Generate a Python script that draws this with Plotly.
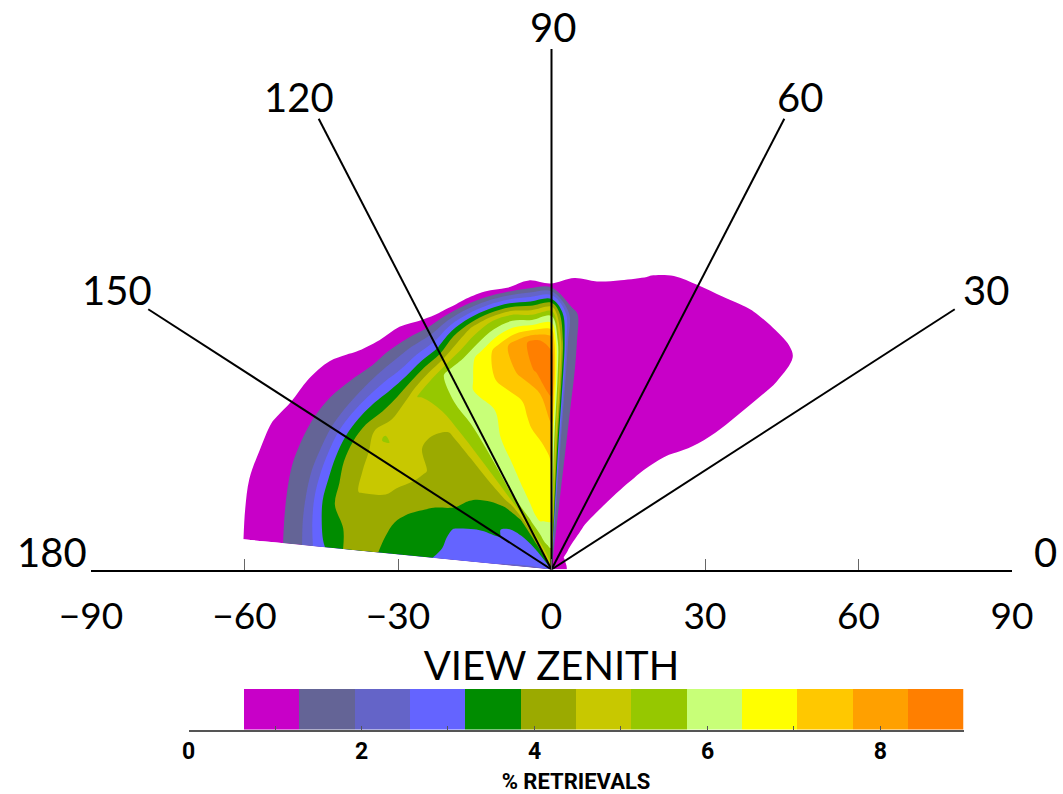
import numpy as np
import plotly.graph_objects as go

# ---------------- data ----------------
zenith = [0, 5, 10, 15, 20, 25, 30, 35, 40, 45, 50, 55, 60, 65]
azimuth = [0, 5, 10, 15, 20, 25, 30, 35, 40, 45, 50, 55, 60, 65, 70, 75, 80, 85,
           90, 95, 100, 105, 110, 115, 120, 125, 130, 135, 140, 145, 150, 155, 160, 165, 170, 175]

# % retrievals, one row per relative azimuth, one column per view zenith
pct_az000 = [1.3, 0.2, 0, 0, 0, 0, 0, 0, 0, 0, 0, 0, 0, 0]
pct_az005 = [1.3, 0.2, 0, 0, 0, 0, 0, 0, 0, 0, 0, 0, 0, 0]
pct_az010 = [1.3, 0.2, 0, 0, 0, 0, 0, 0, 0, 0, 0, 0, 0, 0]
pct_az015 = [1.3, 0.2, 0, 0, 0, 0, 0, 0, 0, 0, 0, 0, 0, 0]
pct_az020 = [1.3, 0.2, 0, 0, 0, 0, 0, 0, 0, 0, 0, 0, 0, 0]
pct_az025 = [1.3, 0.2, 0, 0, 0, 0, 0, 0, 0, 0, 0, 0, 0, 0]
pct_az030 = [1.3, 0.2, 0, 0, 0, 0, 0.05, 0.1, 0.15, 0.2, 0.2, 0.2, 0.15, 0]
pct_az035 = [1.3, 0.25, 0.1, 0.1, 0.1, 0.15, 0.25, 0.4, 0.5, 0.5, 0.5, 0.5, 0.45, 0]
pct_az040 = [1.2, 0.3, 0.2, 0.25, 0.3, 0.4, 0.55, 0.8, 0.9, 0.95, 0.95, 0.9, 0.75, 0]
pct_az045 = [1.2, 0.55, 0.45, 0.5, 0.6, 0.7, 0.85, 0.95, 1.0, 1.0, 1.0, 0.95, 0.7, 0]
pct_az050 = [1.2, 0.75, 0.62, 0.75, 0.85, 0.9, 0.95, 1.0, 1.0, 1.0, 1.0, 0.95, 0.62, 0]
pct_az055 = [1.2, 0.9, 0.9, 0.95, 1.0, 1.0, 1.0, 1.0, 1.0, 1.0, 0.95, 0.9, 0.5, 0]
pct_az060 = [1.2, 1.0, 1.0, 1.0, 1.0, 1.0, 1.0, 1.0, 1.0, 1.0, 0.95, 0.9, 0.35, 0]
pct_az065 = [1.2, 1.0, 1.0, 1.0, 1.0, 1.0, 1.0, 1.0, 1.0, 1.0, 0.95, 0.85, 0.2, 0]
pct_az070 = [1.2, 1.0, 1.0, 1.0, 1.0, 1.0, 1.0, 1.0, 1.0, 1.0, 0.95, 0.6, 0, 0]
pct_az075 = [1.2, 1.0, 1.0, 1.0, 1.0, 1.0, 1.0, 1.0, 1.0, 1.0, 0.9, 0.35, 0, 0]
pct_az080 = [1.2, 1.05, 1.05, 1.05, 1.05, 1.05, 1.05, 1.05, 1.05, 1.0, 0.8, 0.1, 0, 0]
pct_az085 = [1.5, 1.5, 1.5, 1.5, 1.5, 1.5, 1.5, 1.5, 1.45, 1.4, 0.8, 0.1, 0, 0]
pct_az090 = [5.0, 6.0, 6.6, 6.9, 7.1, 7.6, 8.3, 8.7, 8.1, 5.4, 0.62, 0, 0, 0]
pct_az095 = [5.0, 6.0, 6.6, 6.8, 6.9, 7.2, 7.4, 8.4, 8.5, 4.9, 0.75, 0, 0, 0]
pct_az100 = [4.9, 5.9, 6.6, 6.8, 6.9, 7.0, 7.1, 7.8, 8.0, 5.3, 0.64, 0, 0, 0]
pct_az105 = [4.7, 5.8, 6.6, 6.7, 6.8, 6.8, 6.8, 7.3, 7.3, 5.1, 0.68, 0, 0, 0]
pct_az110 = [4.5, 5.5, 6.3, 6.5, 6.6, 6.6, 6.5, 6.9, 6.6, 4.6, 0.66, 0, 0, 0]
pct_az115 = [4.3, 5.1, 5.9, 6.1, 6.2, 6.3, 6.2, 6.5, 6.1, 3.9, 0.62, 0, 0, 0]
pct_az120 = [4.0, 4.5, 5.1, 5.9, 5.9, 5.9, 5.9, 6.0, 5.9, 3.0, 0.7, 0, 0, 0]
pct_az125 = [3.4, 3.5, 3.7, 4.7, 5.1, 5.3, 5.5, 5.6, 5.5, 2.9, 1.0, 0, 0, 0]
pct_az130 = [3.2, 3.3, 3.5, 3.9, 4.2, 4.3, 4.4, 4.7, 5.2, 2.8, 1.2, 0, 0, 0]
pct_az135 = [3.0, 3.0, 3.3, 3.7, 4.1, 4.2, 4.3, 4.6, 4.8, 3.0, 1.3, 0.45, 0, 0]
pct_az140 = [2.95, 3.0, 3.1, 3.6, 3.9, 4.2, 4.3, 4.6, 4.7, 3.3, 1.4, 0.95, 0, 0]
pct_az145 = [2.95, 3.0, 3.05, 3.4, 3.8, 4.2, 4.5, 4.9, 5.2, 3.6, 1.6, 1.0, 0.4, 0]
pct_az150 = [2.95, 3.0, 3.1, 3.4, 3.7, 4.1, 4.4, 4.8, 4.7, 3.8, 1.8, 1.05, 0.5, 0]
pct_az155 = [2.95, 3.0, 3.05, 3.1, 3.4, 3.8, 4.2, 4.6, 4.6, 3.8, 1.85, 1.1, 0.7, 0]
pct_az160 = [2.9, 3.0, 3.05, 3.05, 3.15, 3.6, 3.9, 4.4, 4.5, 3.7, 1.9, 1.1, 0.75, 0]
pct_az165 = [2.8, 2.9, 3.0, 3.0, 3.1, 3.5, 3.7, 4.1, 4.3, 3.7, 1.8, 1.05, 0.8, 0.1]
pct_az170 = [2.6, 2.7, 2.85, 2.95, 3.05, 3.5, 3.6, 4.0, 4.0, 3.4, 1.7, 1.0, 0.75, 0.05]
pct_az175 = [2.2, 2.3, 2.5, 2.7, 3.0, 3.3, 3.6, 3.9, 4.0, 3.1, 1.6, 1.0, 0.7, 0]

pct = [pct_az000, pct_az005, pct_az010, pct_az015, pct_az020, pct_az025,
       pct_az030, pct_az035, pct_az040, pct_az045, pct_az050, pct_az055,
       pct_az060, pct_az065, pct_az070, pct_az075, pct_az080, pct_az085,
       pct_az090, pct_az095, pct_az100, pct_az105, pct_az110, pct_az115,
       pct_az120, pct_az125, pct_az130, pct_az135, pct_az140, pct_az145,
       pct_az150, pct_az155, pct_az160, pct_az165, pct_az170, pct_az175]

level_step = 0.64
band_colors = ['#FFFFFF', '#C800C8', '#646496', '#6464C8', '#6464FF', '#008C00',
               '#9BAA00', '#C8C800', '#96C800', '#C8FF78', '#FFFF00', '#FFC800',
               '#FFA000', '#FF7F00']
azimuth_spokes = [30, 60, 90, 120, 150]
azimuth_labels = [0, 30, 60, 90, 120, 150, 180]
zenith_ticks = [-90, -60, -30, 0, 30, 60, 90]
cbar_ticks = [0, 2, 4, 6, 8]

# ---------------- styling constants ----------------
W, H = 1063, 794
SPOKE_R = 91
n_bands = len(band_colors)
top_level = level_step * n_bands


def fx(px):
    return px / W


def fy(py):
    return (H - py) / H


# stepwise colour scale; each step is offset a quarter band so that a colour
# looked up either at a contour level or at a band middle gives the same band
colorscale = [[0.0, band_colors[0]]]
for k in range(1, n_bands):
    edge = (k - 0.25) / n_bands
    colorscale.append([edge, band_colors[k - 1]])
    colorscale.append([edge, band_colors[k]])
colorscale.append([1.0, band_colors[-1]])

# carpet grid: view zenith as radius, relative azimuth as angle
R = np.array(zenith, dtype=float)
PHI = np.radians(np.array(azimuth, dtype=float))
grid_x = np.outer(np.cos(PHI), R)
grid_y = np.outer(np.sin(PHI), R)

hidden_axis = dict(showgrid=False, showline=False, showticklabels='none',
                   startline=False, endline=False, smoothing=0, minorgridcount=0,
                   gridcolor='rgba(0,0,0,0)')

fig = go.Figure()
fig.add_trace(go.Carpet(a=zenith, b=azimuth, x=grid_x.tolist(), y=grid_y.tolist(),
                        carpet='polar', aaxis=hidden_axis, baxis=hidden_axis))
fig.add_trace(go.Contourcarpet(a=zenith, b=azimuth, z=pct, carpet='polar',
                               autocontour=False,
                               contours=dict(start=level_step, end=top_level,
                                             size=level_step, coloring='fill',
                                             showlines=False),
                               line=dict(width=0),
                               colorscale=colorscale, showscale=False))

# azimuth spokes
sx, sy = [], []
for a in azimuth_spokes:
    t = np.radians(a)
    sx += [0, SPOKE_R * np.cos(t), None]
    sy += [0, SPOKE_R * np.sin(t), None]
fig.add_trace(go.Scatter(x=sx, y=sy, mode='lines', line=dict(color='black', width=2),
                         hoverinfo='skip', showlegend=False))

# azimuth labels
label_font = dict(family='Lato', size=40, color='black')
label_style = {
    0:   dict(xanchor='left', xshift=20, yshift=-8),
    30:  dict(xanchor='left', xshift=6, yshift=-7),
    60:  dict(xanchor='center', xshift=16, yshift=-4),
    90:  dict(xanchor='center', xshift=1, yshift=-4),
    120: dict(xanchor='center', xshift=-20, yshift=-4),
    150: dict(xanchor='right', xshift=6, yshift=-7),
    180: dict(xanchor='right', xshift=-2, yshift=-8),
}
for a in azimuth_labels:
    t = np.radians(a)
    if a in (0, 180):
        x, y = (90 if a == 0 else -90), 0
    else:
        x, y = SPOKE_R * np.cos(t), SPOKE_R * np.sin(t)
    fig.add_annotation(x=x, y=y, text=str(a), showarrow=False, font=label_font,
                       yanchor='bottom', **label_style[a])

# colour bar as a one-row heatmap of the contour bands
cb_edges = [level_step * k for k in range(n_bands + 1)]
cb_mid = [level_step * (k + 0.5) for k in range(n_bands)]
fig.add_trace(go.Heatmap(x=cb_edges, y=[0, 1], z=[cb_mid], xaxis='x2', yaxis='y2',
                         zmin=0, zmax=top_level, colorscale=colorscale,
                         showscale=False, hoverinfo='skip'))

y0_px, ky = 569.5, 5.72
y_top = 92
fig.update_layout(
    width=W, height=H, margin=dict(l=0, r=0, t=0, b=0, autoexpand=False),
    plot_bgcolor='white', paper_bgcolor='white', showlegend=False,
    xaxis=dict(domain=[fx(91), fx(1012)], range=[-90, 90], tickvals=zenith_ticks,
               ticks='inside', ticklen=11, tickcolor='#666', tickwidth=1,
               showline=True, linecolor='black', linewidth=2, showgrid=False,
               zeroline=False, tickfont=dict(family='Lato', size=37, color='black'),
               ticklabelstandoff=13, automargin=False,
               title=dict(text='VIEW ZENITH', font=dict(family='Lato', size=40, color='black'),
                          standoff=16)),
    yaxis=dict(domain=[fy(y0_px), fy(y0_px - y_top * ky)], range=[0, y_top],
               visible=False, automargin=False),
    xaxis2=dict(domain=[fx(188.5), fx(963.5)], range=[0, top_level], anchor='y2',
                tickvals=cbar_ticks, ticks='inside', ticklen=4, tickcolor='#555',
                minor=dict(dtick=1, ticks='inside', ticklen=4, tickcolor='#555'),
                showline=True, linecolor='#555', linewidth=2, showgrid=False,
                zeroline=False, automargin=False,
                tickfont=dict(family='Roboto', size=23, color='black', weight='bold'),
                ticklabelstandoff=0,
                title=dict(text='% RETRIEVALS',
                           font=dict(family='Roboto', size=22, color='black', weight='bold'),
                           standoff=14)),
    yaxis2=dict(domain=[fy(729.5), fy(689)], range=[0, 1], anchor='x2',
                visible=False, automargin=False),
)

# remove the browser's default page margin so the figure sits at the window origin
fig.write_html('out.html', config={'displayModeBar': False},
               post_script="document.body.style.margin='0px';"
                           "document.body.style.overflow='hidden';")
